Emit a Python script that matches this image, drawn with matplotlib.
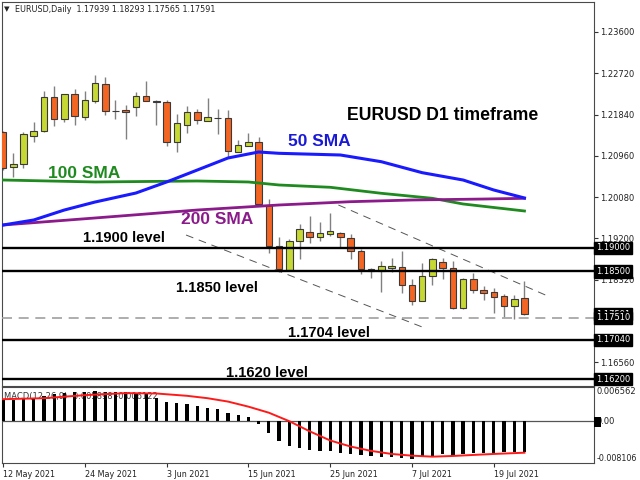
import matplotlib
matplotlib.use('Agg')
import matplotlib.pyplot as plt
from matplotlib.patches import Rectangle

# ---------------- data ----------------
date_labels = ['12 May 2021', '24 May 2021', '3 Jun 2021', '15 Jun 2021',
               '25 Jun 2021', '7 Jul 2021', '19 Jul 2021']
date_pos = [0, 8, 16, 24, 32, 40, 48]

opens = [1.2147, 1.2072, 1.2079, 1.2138, 1.2149, 1.2222, 1.2175, 1.2228, 1.2179, 1.2213,
         1.2249, 1.2191, 1.2194, 1.2200, 1.2224, 1.2214, 1.2211, 1.2126, 1.2162, 1.2190,
         1.2170, 1.2177, 1.2177, 1.2104, 1.2117, 1.2126, 1.1991, 1.1904, 1.1853, 1.1915,
         1.1934, 1.1923, 1.1930, 1.1932, 1.1921, 1.1893, 1.1855, 1.1851, 1.1857, 1.1859,
         1.1821, 1.1787, 1.1840, 1.1870, 1.1857, 1.1772, 1.1834, 1.1810, 1.1806, 1.1797,
         1.1776, 1.17939]
highs = [1.2149, 1.2102, 1.2147, 1.2168, 1.2234, 1.2245, 1.2228, 1.2239, 1.2234, 1.2268,
         1.2264, 1.2215, 1.2204, 1.2232, 1.2256, 1.2215, 1.2215, 1.2185, 1.2202, 1.2196,
         1.2219, 1.2196, 1.2194, 1.2130, 1.2145, 1.2136, 1.2004, 1.1924, 1.1919, 1.1951,
         1.1968, 1.1955, 1.1974, 1.1934, 1.1930, 1.1898, 1.1857, 1.1872, 1.1878, 1.1893,
         1.1834, 1.1868, 1.1878, 1.1878, 1.1872, 1.1836, 1.1846, 1.1819, 1.1815, 1.1802,
         1.1800, 1.18293]
lows = [1.2066, 1.2051, 1.2070, 1.2126, 1.2147, 1.2160, 1.2168, 1.2162, 1.2172, 1.2209,
        1.2183, 1.2175, 1.2132, 1.2181, 1.2213, 1.2162, 1.2117, 1.2104, 1.2145, 1.2164,
        1.2170, 1.2143, 1.2092, 1.2104, 1.2117, 1.1991, 1.1889, 1.1849, 1.1853, 1.1876,
        1.1910, 1.1915, 1.1925, 1.1902, 1.1876, 1.1844, 1.1836, 1.1806, 1.1848, 1.1804,
        1.1778, 1.1787, 1.1821, 1.1834, 1.1770, 1.1770, 1.1804, 1.1789, 1.1761, 1.1753,
        1.1748, 1.17565]
closes = [1.2070, 1.2079, 1.2143, 1.2149, 1.2222, 1.2175, 1.2228, 1.2181, 1.2215, 1.2251,
          1.2192, 1.2192, 1.2190, 1.2224, 1.2213, 1.2211, 1.2126, 1.2166, 1.2190, 1.2173,
          1.2179, 1.2176, 1.2106, 1.2119, 1.2126, 1.1994, 1.1904, 1.1855, 1.1915, 1.1940,
          1.1923, 1.1932, 1.1936, 1.1923, 1.1893, 1.1855, 1.1851, 1.1861, 1.1861, 1.1821,
          1.1787, 1.1840, 1.1876, 1.1857, 1.1772, 1.1834, 1.1810, 1.1804, 1.1795, 1.1776,
          1.1791, 1.17591]

sma50_pos = [0, 3, 6, 9, 13, 16, 19, 22, 25, 27, 33, 37, 41, 45, 48, 51]
sma50 = [1.19487, 1.19594, 1.19807, 1.19977, 1.20169, 1.20404, 1.20659, 1.20915,
         1.21043, 1.21015, 1.20979, 1.20836, 1.20602, 1.20446, 1.20233, 1.20063]
sma100_pos = [0, 9, 19, 24, 27, 32, 37, 42, 45, 51]
sma100 = [1.20446, 1.20404, 1.20425, 1.20404, 1.20340, 1.20291, 1.20163, 1.20056,
          1.19935, 1.19786]
sma200_pos = [0, 9, 19, 27, 34, 40, 47, 51]
sma200 = [1.19487, 1.19637, 1.19807, 1.19914, 1.19984, 1.20020, 1.20041, 1.20056]

levels = [1.1900, 1.1850, 1.1704, 1.1620]
support_price = 1.1751
upper_trend_pos = [32.8, 53.5]
upper_trend = [1.19914, 1.17953]
lower_trend_pos = [17.9, 41.0]
lower_trend = [1.19274, 1.17314]

axis_ticks = [1.2360, 1.2272, 1.2184, 1.2096, 1.2008, 1.1920, 1.1832, 1.1656]
boxed_ticks = [1.19000, 1.18500, 1.17591, 1.17510, 1.17040, 1.16200]

macd_hist = [0.00421, 0.00407, 0.00421, 0.00453, 0.00486, 0.00518, 0.00538, 0.00551,
             0.00564, 0.00584, 0.00564, 0.00551, 0.00551, 0.00538, 0.00518, 0.00453,
             0.00368, 0.00342, 0.00323, 0.00290, 0.00258, 0.00225, 0.00160, 0.00108,
             0.00075, -0.00055, -0.00231, -0.00394, -0.00473, -0.00525, -0.00557,
             -0.00571, -0.00577, -0.00610, -0.00636, -0.00655, -0.00675, -0.00688,
             -0.00701, -0.00720, -0.00740, -0.00701, -0.00675, -0.00636, -0.00675,
             -0.00636, -0.00610, -0.00610, -0.00610, -0.00603, -0.00595, -0.00590]
signal_pos = [0, 4, 8, 12, 15, 18, 20, 22, 24, 26, 28, 30, 32, 34, 36, 38, 40, 42, 44,
              46, 48, 51]
signal = [0.00421, 0.00440, 0.00499, 0.00538, 0.00531, 0.00486, 0.00440, 0.00375,
          0.00277, 0.00160, -0.00004, -0.00200, -0.00376, -0.00493, -0.00577, -0.00636,
          -0.00669, -0.00688, -0.00675, -0.00655, -0.00636, -0.00612]

# ---------------- style ----------------
BULL = '#c6d833'
BEAR = '#f26522'
EDGE = '#3a3a3a'
WICK = '#808080'
W, H = 640, 480
FS = 6.0


def P(x, y):
    return x / W, 1 - y / H


fig = plt.figure(figsize=(6.4, 4.8), dpi=100)
fig.patch.set_facecolor('white')

ax = fig.add_axes([2 / W, 1 - 386 / H, 592 / W, 384 / H])
axm = fig.add_axes([2 / W, 1 - 463 / H, 592 / W, 76 / H])

xmin, xmax = -0.1, 57.8
for a in (ax, axm):
    a.set_xlim(xmin, xmax)
    for s in a.spines.values():
        s.set_color('#4a4a4a')
        s.set_linewidth(0.8)

ax.set_ylim(1.16057, 1.24239)
axm.set_ylim(-0.008106, 0.006562)

# candles
bw = 0.64
for i, (o, h, l, c) in enumerate(zip(opens, highs, lows, closes)):
    ax.vlines(i, l, h, color=WICK, lw=1.0, zorder=2)
    lo = min(o, c)
    hh = max(abs(c - o), 0.00004)
    col = BULL if c >= o else BEAR
    ax.add_patch(Rectangle((i - bw / 2, lo), bw, hh, facecolor=col,
                           edgecolor=EDGE, lw=0.8, zorder=3))

# SMAs
ax.plot(sma100_pos, sma100, color='#1f8a1f', lw=2.0, zorder=5)
ax.plot(sma200_pos, sma200, color='#8b1a8b', lw=2.0, zorder=5)
ax.plot(sma50_pos, sma50, color='#1a1aff', lw=2.2, zorder=6)

# levels
for lv in levels:
    ax.axhline(lv, color='black', lw=1.7, zorder=7)
ax.axhline(support_price, color='#a0a0a0', lw=1.2, ls=(0, (6, 4)), zorder=4)
ax.plot(upper_trend_pos, upper_trend, color='#555555', lw=0.7, ls=(0, (8, 6)), zorder=4)
ax.plot(lower_trend_pos, lower_trend, color='#555555', lw=0.7, ls=(0, (8, 6)), zorder=4)

# right axis ticks
ax.yaxis.tick_right()
ax.set_yticks(axis_ticks)
ax.set_yticklabels([f'{v:.5f}' for v in axis_ticks])
ax.tick_params(axis='y', length=3, width=0.8, pad=1.5, labelsize=FS,
               colors='#333333', labelcolor='#222222')
ax.set_xticks([])
for v in boxed_ticks:
    ax.text(1.003, v, f'{v:.5f}', transform=ax.get_yaxis_transform(),
            color='white', fontsize=FS, va='center', ha='left', zorder=10,
            bbox=dict(boxstyle='square,pad=0.2', fc='black', ec='black'),
            clip_on=False)

# annotations
tf = dict(fontweight='bold', family='Liberation Sans', va='center', ha='left')
fig.text(*P(347, 115), 'EURUSD D1 timeframe', fontsize=12.7, color='black', **tf)
fig.text(*P(288, 142), '50 SMA', fontsize=12.5, color='#1a1ad6', **tf)
fig.text(*P(48, 173), '100 SMA', fontsize=12.5, color='#1f8a1f', **tf)
fig.text(*P(181, 220), '200 SMA', fontsize=12.5, color='#8b1a8b', **tf)
fig.text(*P(83, 238), '1.1900 level', fontsize=10.6, color='black', **tf)
fig.text(*P(176, 288), '1.1850 level', fontsize=10.6, color='black', **tf)
fig.text(*P(288, 333), '1.1704 level', fontsize=10.6, color='black', **tf)
fig.text(*P(226, 373), '1.1620 level', fontsize=10.6, color='black', **tf)

fig.text(*P(4, 9), '\u25bc', fontsize=5.2, color='#222222', va='center', ha='left')
fig.text(*P(15, 9), 'EURUSD,Daily  1.17939 1.18293 1.17565 1.17591', fontsize=5.8,
         color='#222222', va='center', ha='left')

# MACD
axm.bar(range(len(macd_hist)), macd_hist, width=0.32, color='black', zorder=3)
axm.plot(signal_pos, signal, color='#ff1a1a', lw=1.4, zorder=4)
axm.axhline(0, color='#555555', lw=0.9, zorder=2)
axm.text(0.004, 0.93, 'MACD(12,26,9) -0.005898 -0.006122', transform=axm.transAxes,
         fontsize=FS, color='#333333', va='top', ha='left', zorder=1)
axm.set_yticks([])
axm.set_xticks(date_pos)
axm.set_xticklabels(date_labels, ha='left')
axm.tick_params(axis='x', length=3, width=0.8, pad=2, labelsize=5.8,
                colors='#333333', labelcolor='#222222')
axm.text(1.005, 1.0, '0.006562', transform=axm.transAxes, fontsize=FS,
         color='#222222', va='top', ha='left', clip_on=False)
axm.text(1.004, 0.0, '-0.008106', transform=axm.transAxes, fontsize=5.8,
         color='#222222', va='bottom', ha='left', clip_on=False)
axm.text(1.004, 0.0, '0.00', transform=axm.get_yaxis_transform(), fontsize=FS,
         color='#222222', va='center', ha='left', clip_on=False)
fig.patches.append(Rectangle(P(594, 427), 7 / W, 10 / H, transform=fig.transFigure,
                             facecolor='black', edgecolor='none', zorder=5))

fig.savefig('out.png', dpi=100)
